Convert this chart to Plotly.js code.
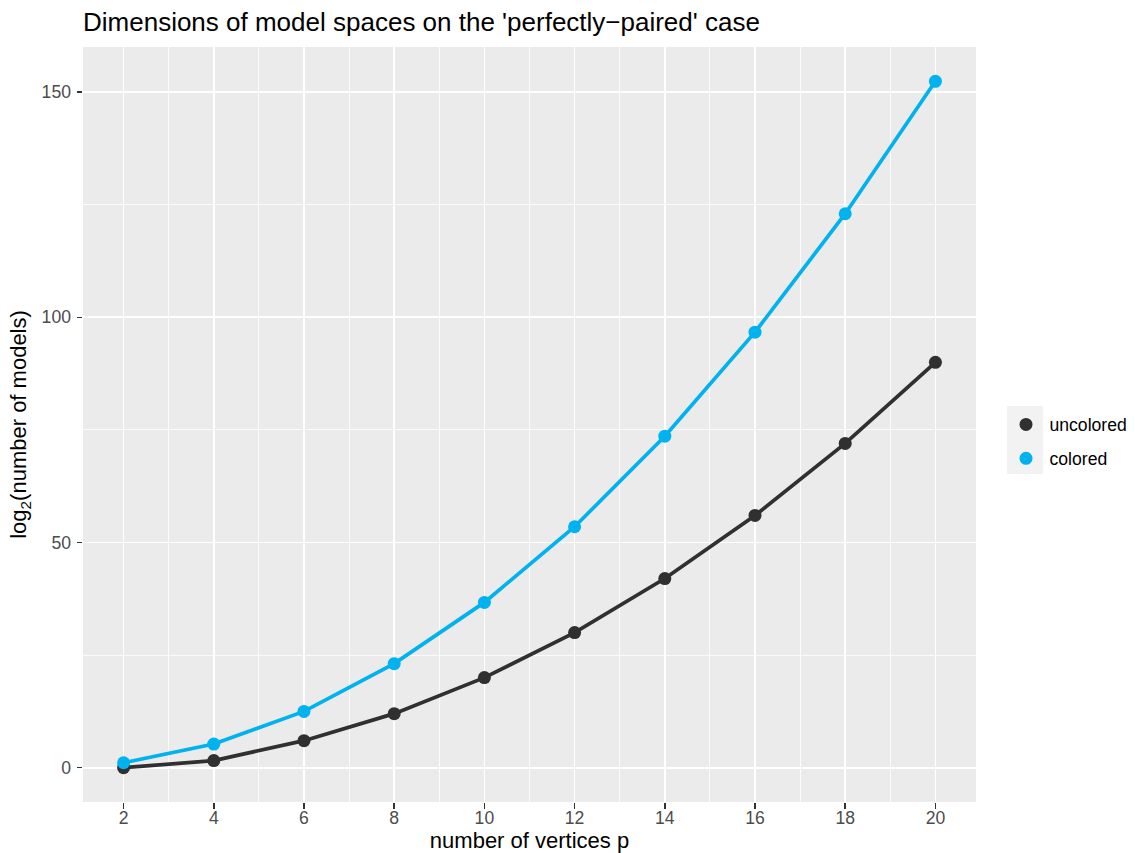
<!DOCTYPE html>
<html>
<head>
<meta charset="utf-8">
<script src="https://cdn.plot.ly/plotly-3.0.1.min.js"></script>
<style>html,body{margin:0;padding:0;background:#fff;}#chart{width:1135px;height:853px;}</style>
</head>
<body>
<div id="chart"></div>
<script>
// Data
const vertices = [2, 4, 6, 8, 10, 12, 14, 16, 18, 20];
const uncolored = [0, 1.58, 6, 12, 20, 30, 42, 56, 72, 90];
const colored = [1.1, 5.25, 12.5, 23.1, 36.7, 53.5, 73.6, 96.7, 123, 152.4];
const seriesNames = ["uncolored", "colored"];
const xTicks = [2, 4, 6, 8, 10, 12, 14, 16, 18, 20];
const yTicks = [0, 50, 100, 150];

const colUnc = "#303030";
const colCol = "#00B2EE";
const FONT = "Liberation Sans, Arial, Helvetica, sans-serif";

const traces = [
  {x: vertices, y: uncolored, mode: "lines", line: {color: colUnc, width: 3.7}, showlegend: false, hoverinfo: "skip"},
  {x: vertices, y: colored, mode: "lines", line: {color: colCol, width: 3.7}, showlegend: false, hoverinfo: "skip"},
  {x: vertices, y: uncolored, mode: "markers", name: seriesNames[0], legendgroup: "a", marker: {color: colUnc, size: 13}},
  {x: vertices, y: colored, mode: "markers", name: seriesNames[1], legendgroup: "b", marker: {color: colCol, size: 13}}
];

const layout = {
  width: 1135, height: 853,
  margin: {l: 83, r: 159, t: 47, b: 51},
  paper_bgcolor: "#ffffff",
  plot_bgcolor: "#EBEBEB",
  font: {family: FONT, color: "#000000"},
  title: {text: "Dimensions of model spaces on the 'perfectly\u2212paired' case", x: 0, xref: "paper", xanchor: "left", y: 1, yref: "container", yanchor: "top", pad: {t: 13}, font: {size: 26, color: "#000"}},
  xaxis: {
    range: [1.1, 20.9], tickvals: xTicks, ticktext: xTicks.map(String),
    showgrid: true, gridcolor: "#ffffff", gridwidth: 1.7, zeroline: false, showline: false,
    ticks: "outside", ticklen: 5.5, tickwidth: 1.6, tickcolor: "#333333",
    tickfont: {size: 17.6, color: "#4D4D4D"}, ticklabelstandoff: -6,
    minor: {dtick: 1, tick0: 1, showgrid: true, gridcolor: "#ffffff", gridwidth: 0.8, ticks: ""},
    title: {text: "number of vertices p", font: {size: 22, color: "#000"}, standoff: 19}
  },
  yaxis: {
    range: [-7.62, 160.02], tickvals: yTicks, ticktext: yTicks.map(String),
    showgrid: true, gridcolor: "#ffffff", gridwidth: 1.7, zeroline: false, showline: false,
    ticks: "outside", ticklen: 5.5, tickwidth: 1.6, tickcolor: "#333333",
    tickfont: {size: 17.6, color: "#4D4D4D"}, ticklabelstandoff: 2,
    minor: {dtick: 25, tick0: 25, showgrid: true, gridcolor: "#ffffff", gridwidth: 0.8, ticks: ""},
    title: {text: "log<sub>2</sub>(number of models)", font: {size: 22, color: "#000"}, standoff: 8}
  },
  legend: {
    xref: "container", x: 1002.5/1135, xanchor: "left",
    yref: "paper", y: 0.4775, yanchor: "middle",
    bgcolor: "rgba(0,0,0,0)", borderwidth: 0,
    font: {size: 17.6, color: "#000"},
    traceorder: "grouped", tracegroupgap: 8, itemwidth: 37
  },
  shapes: [
    {type: "rect", xref: "paper", yref: "paper", x0: (1007-83)/893, x1: (1043-83)/893, y0: (802-474)/755, y1: (802-406)/755, fillcolor: "#F2F2F2", line: {width: 0}, layer: "below"}
  ]
};

Plotly.newPlot("chart", traces, layout, {displayModeBar: false, staticPlot: true});
</script>
</body>
</html>
